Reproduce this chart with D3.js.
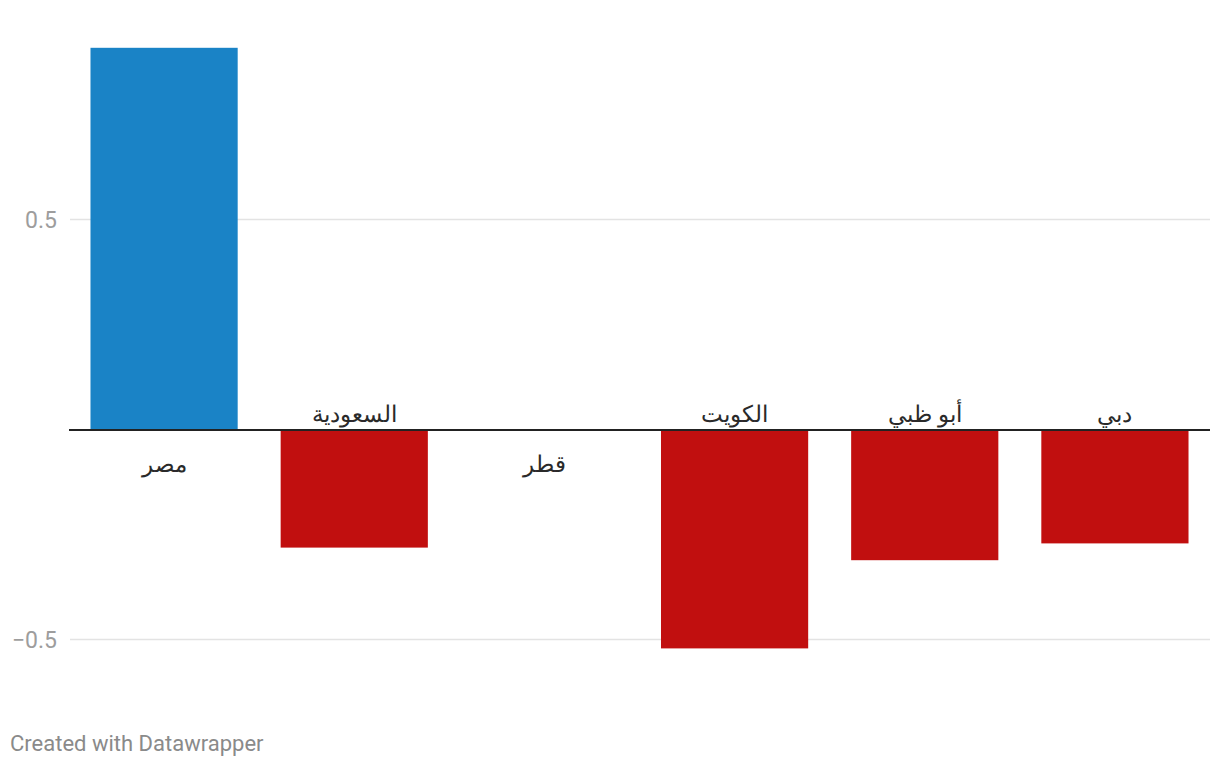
<!DOCTYPE html>
<html><head><meta charset="utf-8">
<script src="https://cdn.jsdelivr.net/npm/d3@7"></script>
<style>body{margin:0;background:#fff;font-family:Roboto,sans-serif;}</style>
</head><body>
<svg id="c" width="1220" height="768"></svg>
<script>
const categories = ["مصر","السعودية","قطر","الكويت","أبو ظبي","دبي"];
const values = [0.91, -0.28, 0, -0.52, -0.31, -0.27];
const tickValues = [-0.5, 0.5];
const tickLabels = ["−0.5", "0.5"];

const svg = d3.select("#c");
const left = 69, right = 1210;
const x = d3.scaleBand().domain(categories).range([left, right]).paddingInner(0.226).paddingOuter(0.113);
const y = d3.scaleLinear().domain([-0.5, 0.5]).range([640, 220]);

svg.append("g").selectAll("line").data(tickValues).join("line")
  .attr("x1", left + 1).attr("x2", right)
  .attr("y1", d => y(d) - 0.5).attr("y2", d => y(d) - 0.5)
  .attr("stroke", "#e3e3e3").attr("stroke-width", 1.5);

svg.append("g").selectAll("text").data(tickValues).join("text")
  .attr("x", 57).attr("y", d => y(d) + 8)
  .attr("text-anchor", "end").attr("font-size", 23).attr("fill", "#9d9d9d")
  .attr("font-family", "Roboto")
  .text((d, i) => tickLabels[i]);

svg.append("g").selectAll("rect").data(values).join("rect")
  .attr("x", (d, i) => x(categories[i]))
  .attr("width", x.bandwidth())
  .attr("y", d => y(Math.max(0, d)))
  .attr("height", d => Math.abs(y(d) - y(0)))
  .attr("fill", d => d > 0 ? "#1a83c6" : "#c10f0f");

svg.append("line").attr("x1", left).attr("x2", right)
  .attr("y1", y(0)).attr("y2", y(0)).attr("stroke", "#222").attr("stroke-width", 2);

svg.append("g").selectAll("text").data(values).join("text")
  .attr("x", (d, i) => x(categories[i]) + x.bandwidth() / 2)
  .attr("y", d => d < 0 ? y(0) - 8 : y(0) + 42)
  .attr("text-anchor", "middle").attr("font-size", 23).attr("fill", "#2a2a2a")
  .attr("font-family", "'Noto Sans', Roboto, sans-serif")
  .text((d, i) => categories[i]);

svg.append("text").attr("x", 10).attr("y", 751)
  .attr("font-size", 22).attr("fill", "#8a8a8a").attr("font-family", "Roboto")
  .text("Created with Datawrapper");
</script>
</body></html>
